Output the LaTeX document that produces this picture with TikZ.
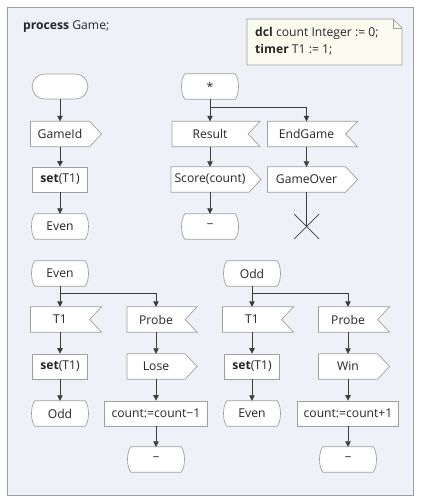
\documentclass[tikz,border=0pt]{standalone}
\usepackage{fontspec}
\setmainfont{Open Sans}
\usetikzlibrary{arrows.meta,calc}
\definecolor{bgc}{HTML}{EEF1F8}
\definecolor{edge}{HTML}{A0A0A0}
\definecolor{notec}{HTML}{FBFBF0}
\definecolor{ink}{HTML}{3C3C3C}
\pgfdeclarelayer{back}\pgfdeclarelayer{mid}\pgfsetlayers{back,mid,main}
\tikzset{
  txt/.style={font=\fontsize{12.2}{14}\selectfont, text=black!85, inner sep=0pt, minimum height=25bp},
  task/.style={txt, draw=edge, fill=white, line width=0.7bp},
  holder/.style={txt},
  startbox/.style={txt, draw=edge, fill=white, line width=0.7bp, rounded corners=12.5bp},
  shp/.style={draw=edge, fill=white, line width=0.7bp},
  arr/.style={draw=ink, line width=0.7bp, -{Triangle[length=5.5bp,width=5.5bp]}},
  ln/.style={draw=ink, line width=0.7bp},
}
\newcommand\outsym[1]{\draw[shp] (#1.north west) -- (#1.north east) -- ($(#1.east)+(12,0)$) -- (#1.south east) -- (#1.south west) -- cycle;}
\newcommand\insym[1]{\draw[shp] (#1.north west) -- ($(#1.north east)+(12,0)$) -- (#1.east) -- ($(#1.south east)+(12,0)$) -- (#1.south west) -- cycle;}
\newcommand\statesym[1]{\draw[shp] (#1.north west) -- (#1.north east) .. controls ($(#1.north east)+(4.5,5)$) and ($(#1.south east)+(4.5,-5)$) .. (#1.south east) -- (#1.south west) .. controls ($(#1.south west)+(-4.5,-5)$) and ($(#1.north west)+(-4.5,5)$) .. cycle;}
\begin{document}
\begin{tikzpicture}[x=1bp,y=-1bp]
\useasboundingbox (0,0) rectangle (421,504);
\begin{pgfonlayer}{back}
\draw[edge, fill=bgc, line width=0.8bp] (7.5,7) rectangle (413,495);
\draw[edge, fill=notec, line width=0.7bp] (247,19) -- (393,19) -- (402,28) -- (402,65) -- (247,65) -- cycle;
\draw[edge, line width=0.7bp] (393,19) -- (393,28) -- (402,28);
\end{pgfonlayer}
\node[txt, anchor=west] (title) at (23,27) {\textbf{process} Game;};
\node[anchor=west, align=left, inner sep=0pt, text=black!85, font=\fontsize{12.2}{17}\selectfont] (decl) at (255,41.5) {\textbf{dcl} count Integer := 0;\\\textbf{timer} T1 := 1;};
% top part
\node[startbox, minimum width=56] (start) at (60,86.5) {};
\node[holder, minimum width=50] (star) at (210,86.5) {*};
\node[holder, minimum width=59] (gameid) at (60,134) {GameId};
\node[task, minimum width=55] (set1) at (60,179.5) {\textbf{set}(T1)};
\node[holder, minimum width=50] (even1) at (60,226.5) {Even};
\node[holder, minimum width=76] (result) at (210,134) {Result};
\node[holder, minimum width=78] (endgame) at (306.5,134) {EndGame};
\node[holder, minimum width=78] (score) at (210,179.5) {Score(count)};
\node[holder, minimum width=78] (gameover) at (306.5,179.5) {GameOver};
\node[holder, minimum width=50] (dash1) at (210,226.5) {−};
\coordinate (cross) at (306.5,226.5);
% bottom part
\node[holder, minimum width=50] (even2) at (60,273.5) {Even};
\node[holder, minimum width=50] (odd2) at (252,273.5) {Odd};
\node[holder, minimum width=59] (t1a) at (60,319.5) {T1};
\node[holder, minimum width=58] (probea) at (156,319.5) {Probe};
\node[holder, minimum width=59] (t1b) at (252,319.5) {T1};
\node[holder, minimum width=59] (probeb) at (348,319.5) {Probe};
\node[task, minimum width=55] (seta) at (60,366.5) {\textbf{set}(T1)};
\node[holder, minimum width=58] (lose) at (156,366.5) {Lose};
\node[task, minimum width=55] (setb) at (252,366.5) {\textbf{set}(T1)};
\node[holder, minimum width=59] (win) at (348,366.5) {Win};
\node[holder, minimum width=50] (odd3) at (60,413.5) {Odd};
\node[task, minimum width=104] (countm) at (156,413.5) {count:=count−1};
\node[holder, minimum width=50] (even3) at (252,413.5) {Even};
\node[task, minimum width=102] (countp) at (348,413.5) {count:=count+1};
\node[holder, minimum width=50] (dasha) at (156,459.5) {−};
\node[holder, minimum width=50] (dashb) at (348,459.5) {−};
\begin{pgfonlayer}{mid}
\statesym{star}\statesym{even1}\statesym{dash1}
\statesym{even2}\statesym{odd2}\statesym{odd3}\statesym{even3}\statesym{dasha}\statesym{dashb}
\outsym{gameid}\outsym{score}\outsym{gameover}\outsym{lose}\outsym{win}
\insym{result}\insym{endgame}\insym{t1a}\insym{probea}\insym{t1b}\insym{probeb}
\end{pgfonlayer}
% connectors
\draw[arr] (start) -- (gameid);
\draw[arr] (gameid) -- (set1);
\draw[arr] (set1) -- (even1);
\draw[arr] (star) -- (result);
\draw[arr] (star.south) -- ++(0,8) -| (endgame.north);
\draw[arr] (result) -- (score);
\draw[arr] (score) -- (dash1);
\draw[arr] (endgame) -- (gameover);
\draw[ln] (gameover) -- (cross);
\draw[ln] ($(cross)+(-12.5,-12.5)$) -- ($(cross)+(12.5,12.5)$);
\draw[ln] ($(cross)+(-12.5,12.5)$) -- ($(cross)+(12.5,-12.5)$);
\draw[arr] (even2) -- (t1a);
\draw[arr] (even2.south) -- ++(0,7) -| (probea.north);
\draw[arr] (t1a) -- (seta);
\draw[arr] (seta) -- (odd3);
\draw[arr] (probea) -- (lose);
\draw[arr] (lose) -- (countm);
\draw[arr] (countm) -- (dasha);
\draw[arr] (odd2) -- (t1b);
\draw[arr] (odd2.south) -- ++(0,7) -| (probeb.north);
\draw[arr] (t1b) -- (setb);
\draw[arr] (setb) -- (even3);
\draw[arr] (probeb) -- (win);
\draw[arr] (win) -- (countp);
\draw[arr] (countp) -- (dashb);
\end{tikzpicture}
\end{document}
